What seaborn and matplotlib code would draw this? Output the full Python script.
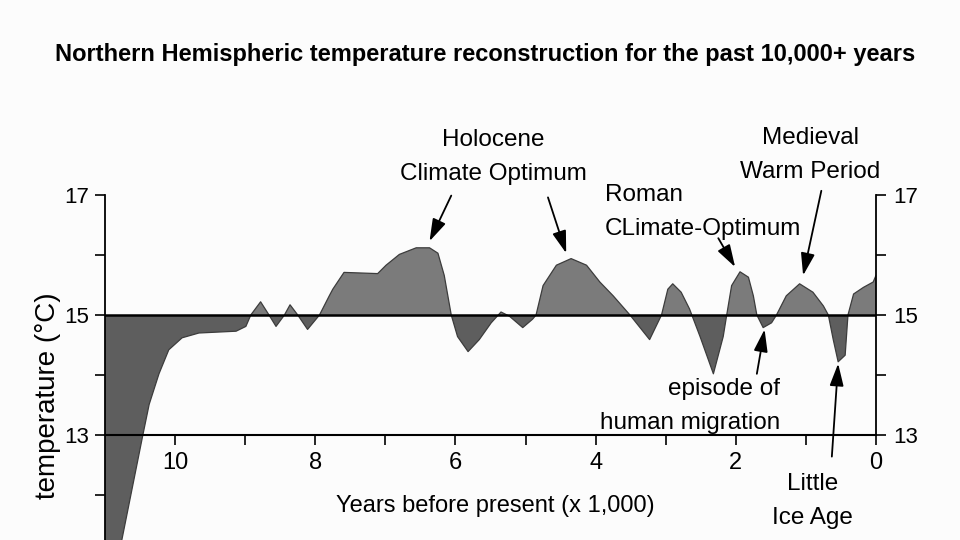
import numpy as np
import matplotlib
matplotlib.use("Agg")
import matplotlib.pyplot as plt
import seaborn as sns

sns.set_style("ticks")
plt.rcParams['font.family'] = ['Liberation Sans', 'DejaVu Sans']
plt.rcParams['text.color'] = 'black'
plt.rcParams['axes.labelcolor'] = 'black'

# -----------------------------
# DATA
# -----------------------------
years_bp = [11.0, 10.76, 10.46, 10.37, 10.23, 10.09, 9.90, 9.66, 9.13, 8.99,
            8.92, 8.78, 8.66, 8.56, 8.44, 8.36, 8.25, 8.11, 7.94, 7.80,
            7.75, 7.59, 7.11, 6.99, 6.80, 6.56, 6.37, 6.25, 6.16, 6.06,
            5.97, 5.82, 5.66, 5.49, 5.35, 5.23, 5.04, 4.90, 4.85, 4.75,
            4.56, 4.35, 4.13, 3.94, 3.75, 3.51, 3.23, 3.06, 2.97, 2.90,
            2.78, 2.66, 2.51, 2.32, 2.18, 2.13, 2.06, 1.94, 1.82, 1.75,
            1.70, 1.61, 1.49, 1.42, 1.28, 1.09, 0.90, 0.75, 0.68, 0.61,
            0.54, 0.44, 0.40, 0.32, 0.18, 0.04, 0.0]
temperature = [10.0, 11.25, 13.0, 13.51, 14.02, 14.42, 14.62, 14.70, 14.73, 14.81,
               15.0, 15.22, 15.0, 14.81, 15.0, 15.17, 15.0, 14.76, 15.0, 15.32,
               15.43, 15.71, 15.69, 15.83, 16.01, 16.12, 16.12, 16.03, 15.66, 15.0,
               14.64, 14.39, 14.59, 14.87, 15.05, 14.98, 14.79, 14.93, 15.0, 15.49,
               15.83, 15.94, 15.83, 15.55, 15.32, 15.0, 14.59, 15.0, 15.43, 15.52,
               15.38, 15.10, 14.64, 14.02, 14.64, 15.0, 15.49, 15.72, 15.63, 15.32,
               15.0, 14.79, 14.87, 15.0, 15.32, 15.52, 15.38, 15.15, 15.0, 14.59,
               14.22, 14.33, 15.0, 15.35, 15.46, 15.55, 15.66]
baseline = 15.0

xtick_pos = list(range(11))
xtick_labels = ["0", "", "2", "", "4", "", "6", "", "8", "", "10"]
left_ytick_pos = [12, 13, 14, 15, 16, 17]
left_ytick_labels = ["", "13", "", "15", "", "17"]
right_ytick_pos = [13, 14, 15, 16, 17]
right_ytick_labels = ["13", "", "15", "", "17"]

# labels: text, x, y, horizontal alignment
labels = [
    ("Holocene\nClimate Optimum", 5.46, 17.64, "center"),
    ("Roman\nCLimate-Optimum", 3.87, 16.72, "left"),
    ("Medieval\nWarm Period", 0.94, 17.67, "center"),
    ("episode of\nhuman migration", 1.37, 13.48, "right"),
    ("Little\nIce Age", 0.91, 11.90, "center"),
]
# arrows: (start x, start y) -> (tip x, tip y)
arrows = [
    ((6.06, 16.99), (6.37, 16.23)),
    ((4.68, 16.96), (4.42, 16.03)),
    ((2.25, 16.28), (2.01, 15.80)),
    ((0.78, 17.07), (1.04, 15.66)),
    ((1.70, 14.02), (1.59, 14.76)),
    ((0.63, 12.64), (0.54, 14.19)),
]

# -----------------------------
# PLOT
# -----------------------------
fig = plt.figure(figsize=(9.6, 5.4), dpi=100)
fig.patch.set_facecolor("#fcfcfc")
ax = fig.add_axes([105 / 960, 0.0, 771 / 960, 345 / 540])
ax.set_facecolor("none")

x = np.array(years_bp)
y = np.array(temperature)
ax.fill_between(x, y, baseline, where=y >= baseline, interpolate=True,
                color="#7b7b7b", lw=0)
ax.fill_between(x, y, baseline, where=y <= baseline, interpolate=True,
                color="#5e5e5e", lw=0)
sns.lineplot(x=x, y=y, ax=ax, color="#3c3c3c", lw=0.9, sort=False, estimator=None)
ax.axhline(baseline, color="black", lw=1.8, zorder=3)

ax.set_xlim(11, 0)
ax.set_ylim(11.25, 17)

for s in ["top", "right"]:
    ax.spines[s].set_visible(False)
ax.spines["bottom"].set_position(("data", 13))
ax.spines["bottom"].set_linewidth(1.5)
ax.spines["bottom"].set_color("black")
ax.spines["left"].set_linewidth(1.3)
ax.spines["left"].set_color("black")
ax.spines["left"].set_bounds(11.25, 17)

ax.set_xticks(xtick_pos, xtick_labels)
ax.set_yticks(left_ytick_pos, left_ytick_labels)
ax.tick_params(axis="x", direction="out", length=7.5, width=1.2,
               labelsize=17, pad=5, colors="black")
ax.tick_params(axis="y", direction="out", length=7.5, width=1.2,
               labelsize=16, pad=4, colors="black")

ax.set_xlabel("Years before present (x 1,000)", fontsize=17)
ax.xaxis.set_label_coords(0.506, 0.13)
ax.set_ylabel("temperature (°C)", fontsize=20)
ax.yaxis.set_label_coords(-0.057, 0.417)

# right-hand axis, only between 13 and 17
ax2 = ax.twinx()
ax2.set_ylim(ax.get_ylim())
for s in ["top", "left", "bottom"]:
    ax2.spines[s].set_visible(False)
ax2.spines["right"].set_bounds(13, 17)
ax2.spines["right"].set_linewidth(1.3)
ax2.spines["right"].set_color("black")
ax2.set_yticks(right_ytick_pos, right_ytick_labels)
ax2.tick_params(axis="y", direction="out", length=7.5, width=1.2,
                labelsize=16, pad=5, colors="black")

for text, tx, ty, ha in labels:
    ax.text(tx, ty, text, ha=ha, va="center", multialignment=ha,
            fontsize=17.5, linespacing=1.7, zorder=5)

for (sx, sy), (ex, ey) in arrows:
    ax.annotate("", xy=(ex, ey), xytext=(sx, sy), annotation_clip=False,
                arrowprops=dict(arrowstyle="-|>,head_length=0.8,head_width=0.25",
                                color="black", lw=1.3, shrinkA=0, shrinkB=0,
                                mutation_scale=17))

fig.text(0.505, 1 - 55 / 540,
         "Northern Hemispheric temperature reconstruction for the past 10,000+ years",
         ha="center", va="center", fontsize=17, fontweight="bold", color="black")

fig.savefig("out.png", dpi=100, facecolor=fig.get_facecolor())
